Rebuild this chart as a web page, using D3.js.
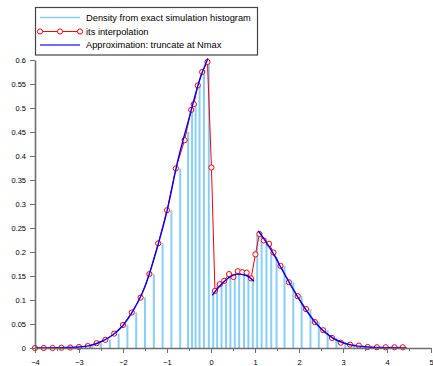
<!DOCTYPE html>
<html>
<head>
<meta charset="utf-8">
<script src="https://cdn.jsdelivr.net/npm/d3@7"></script>
<style>
body { margin: 0; background: #fff; }
</style>
</head>
<body>
<div id="chartContainer"></div>
<script>
// histogram bars (x position, density)
const barX = [-2.7, -2.5, -2.3, -2.1, -1.9, -1.7, -1.5, -1.3, -1.1, -0.9, -0.7,
    -0.52, -0.43, -0.35, -0.26, -0.16, -0.05,
    0.05, 0.14, 0.24, 0.34, 0.44, 0.54, 0.64, 0.75, 0.85, 0.95,
    1.05, 1.15, 1.26, 1.37, 1.49, 1.67, 1.87, 2.06, 2.26, 2.45, 2.65, 2.85, 3.05, 3.25, 3.45];
const barY = [0.004, 0.010, 0.017, 0.030, 0.048, 0.074, 0.105, 0.154, 0.218, 0.287, 0.374,
    0.45, 0.496, 0.508, 0.547, 0.575, 0.596,
    0.117, 0.130, 0.136, 0.142, 0.150, 0.153, 0.157, 0.157, 0.152, 0.146,
    0.236, 0.226, 0.218, 0.200, 0.190, 0.171, 0.137, 0.108, 0.081, 0.054, 0.037, 0.021, 0.011, 0.007, 0.005];

// interpolation points (red)
const interpX = [-4, -3.8, -3.6, -3.4, -3.2, -3.0, -2.8, -2.6, -2.4, -2.2, -2.0, -1.8, -1.6, -1.4, -1.2, -1.0, -0.8, -0.6,
    -0.45, -0.39, -0.3, -0.2, -0.08, 0.01, 0.09, 0.2, 0.3, 0.41, 0.51, 0.61, 0.71, 0.81, 0.91, 1.01, 1.1, 1.2, 1.32, 1.42,
    1.58, 1.77, 1.97, 2.16, 2.36, 2.55, 2.75, 2.95, 3.16, 3.36, 3.56, 3.77, 3.97, 4.17, 4.36];
const interpY = [0, 0, 0, 0.0006, 0.001, 0.002, 0.004, 0.010, 0.017, 0.030, 0.048, 0.074, 0.105, 0.154, 0.218, 0.287, 0.374, 0.433,
    0.496, 0.508, 0.547, 0.575, 0.596, 0.376, 0.119, 0.133, 0.140, 0.154, 0.148, 0.160, 0.158, 0.157, 0.145, 0.195, 0.2375, 0.224, 0.217, 0.199,
    0.171, 0.137, 0.108, 0.081, 0.054, 0.037, 0.021, 0.011, 0.007, 0.005, 0.002, 0.0015, 0.0015, 0.0015, 0.0015];

// approximation (blue), three pieces
const approx1X = [-4, -3.5, -3, -2.75, -2.5, -2.25, -2, -1.75, -1.5, -1.25, -1, -0.75, -0.5, -0.25, -0.07];
const approx1Y = [0, 0.0005, 0.002, 0.005, 0.013, 0.026, 0.047, 0.081, 0.128, 0.200, 0.285, 0.392, 0.478, 0.561, 0.603];
const approx2X = [0.03, 0.2, 0.4, 0.6, 0.8, 0.98];
const approx2Y = [0.110, 0.129, 0.146, 0.154, 0.151, 0.139];
const approx3X = [1.075, 1.2, 1.4, 1.6, 1.8, 2.0, 2.2, 2.4, 2.6, 2.8, 3.0, 3.25, 3.5, 3.75, 4.0, 4.45];
const approx3Y = [0.244, 0.228, 0.199, 0.166, 0.133, 0.102, 0.074, 0.050, 0.032, 0.019, 0.011, 0.005, 0.0025, 0.001, 0.0005, 0];

const xTicks = [-4, -3, -2, -1, 0, 1, 2, 3, 4, 5];
const xMinorTicks = [-3.5, -2.5, -1.5, -0.5, 0.5, 1.5, 2.5, 3.5, 4.5];
const yTicks = [0, 0.05, 0.1, 0.15, 0.2, 0.25, 0.3, 0.35, 0.4, 0.45, 0.5, 0.55, 0.6];

const legendLabels = ['Density from exact simulation histogram', 'its interpolation', 'Approximation: truncate at Nmax'];

const width = 433;
const height = 366;
const margin = { top: 60, right: 2, bottom: 18, left: 35 };

const svg = d3.select('#chartContainer')
    .append('svg')
    .attr('width', width)
    .attr('height', height)
    .style('font-family', '"Liberation Sans", Arial, sans-serif');

const scX = d3.scaleLinear()
    .domain([-4, 5])
    .range([margin.left, width - margin.right]);

const scY = d3.scaleLinear()
    .domain([0, 0.6])
    .range([height - margin.bottom, margin.top]);

const zip = (xs, ys) => xs.map((x, i) => ({ x: x, y: ys[i] }));

// bars
svg.append('g')
    .selectAll('line')
    .data(zip(barX, barY))
    .enter()
    .append('line')
    .attr('x1', d => scX(d.x)).attr('x2', d => scX(d.x))
    .attr('y1', scY(0)).attr('y2', d => scY(d.y))
    .attr('stroke', '#87cefa')
    .attr('stroke-width', 2);

const lineMaker = d3.line()
    .x(d => scX(d.x))
    .y(d => scY(d.y));

// interpolation
const interp = zip(interpX, interpY);
svg.append('path')
    .attr('fill', 'none')
    .attr('stroke', '#ff0000')
    .attr('stroke-width', 1)
    .attr('d', lineMaker(interp));

svg.append('g')
    .selectAll('circle')
    .data(interp)
    .enter()
    .append('circle')
    .attr('cx', d => scX(d.x))
    .attr('cy', d => scY(d.y))
    .attr('r', 2.6)
    .attr('fill', '#fff')
    .attr('stroke', '#ff0000')
    .attr('stroke-width', 1);

// approximation
const smooth = d3.line()
    .x(d => scX(d.x))
    .y(d => scY(d.y))
    .curve(d3.curveMonotoneX);

[zip(approx1X, approx1Y), zip(approx2X, approx2Y), zip(approx3X, approx3Y)].forEach(seg => {
    svg.append('path')
        .attr('fill', 'none')
        .attr('stroke', '#0000ff')
        .attr('stroke-width', 1.4)
        .attr('d', smooth(seg));
});

// Y Axis
const yAxis = d3.axisLeft(scY)
    .tickValues(yTicks)
    .tickSize(5)
    .tickSizeOuter(0)
    .tickPadding(4)
    .tickFormat(d => String(+d.toFixed(2)));

svg.append('g')
    .attr('transform', `translate(${margin.left}, 0)`)
    .call(yAxis);

// X Axis
const xAxis = d3.axisBottom(scX)
    .tickValues(xTicks)
    .tickSize(5)
    .tickSizeOuter(0)
    .tickPadding(7);

svg.append('g')
    .attr('transform', `translate(0, ${scY(0)})`)
    .call(xAxis);

svg.append('g')
    .attr('transform', `translate(0, ${scY(0)})`)
    .call(d3.axisBottom(scX).tickValues(xMinorTicks).tickSize(3).tickSizeOuter(0).tickFormat(''))
    .select('.domain').remove();

svg.selectAll('.domain, .tick line')
    .attr('stroke', '#6e6e6e');
svg.selectAll('.domain').attr('stroke-width', 1.6);
svg.selectAll('.tick text')
    .attr('fill', '#000')
    .style('font-size', '7.5px')
    .style('font-family', '"Liberation Sans", Arial, sans-serif');

// legend
const legend = svg.append('g');
legend.append('rect')
    .attr('x', 35.5).attr('y', 7.5)
    .attr('width', 222).attr('height', 47.5)
    .attr('fill', '#fff')
    .attr('stroke', '#444')
    .attr('stroke-width', 1.2);

const rowY = [17.5, 31.5, 45];
legend.append('line')
    .attr('x1', 40).attr('x2', 80).attr('y1', rowY[0]).attr('y2', rowY[0])
    .attr('stroke', '#87cefa').attr('stroke-width', 1.5);
legend.append('line')
    .attr('x1', 40).attr('x2', 80).attr('y1', rowY[1]).attr('y2', rowY[1])
    .attr('stroke', '#ff0000').attr('stroke-width', 1);
legend.selectAll('circle.leg')
    .data([40, 60, 80])
    .enter()
    .append('circle')
    .attr('cx', d => d).attr('cy', rowY[1]).attr('r', 2.6)
    .attr('fill', '#fff').attr('stroke', '#ff0000');
legend.append('line')
    .attr('x1', 40).attr('x2', 80).attr('y1', rowY[2]).attr('y2', rowY[2])
    .attr('stroke', '#6f6fff').attr('stroke-width', 2);

legend.selectAll('text')
    .data(legendLabels)
    .enter()
    .append('text')
    .attr('x', 86)
    .attr('y', (d, i) => rowY[i])
    .attr('dy', '0.35em')
    .style('font-size', '9.3px')
    .attr('fill', '#000')
    .text(d => d);
</script>
</body>
</html>
